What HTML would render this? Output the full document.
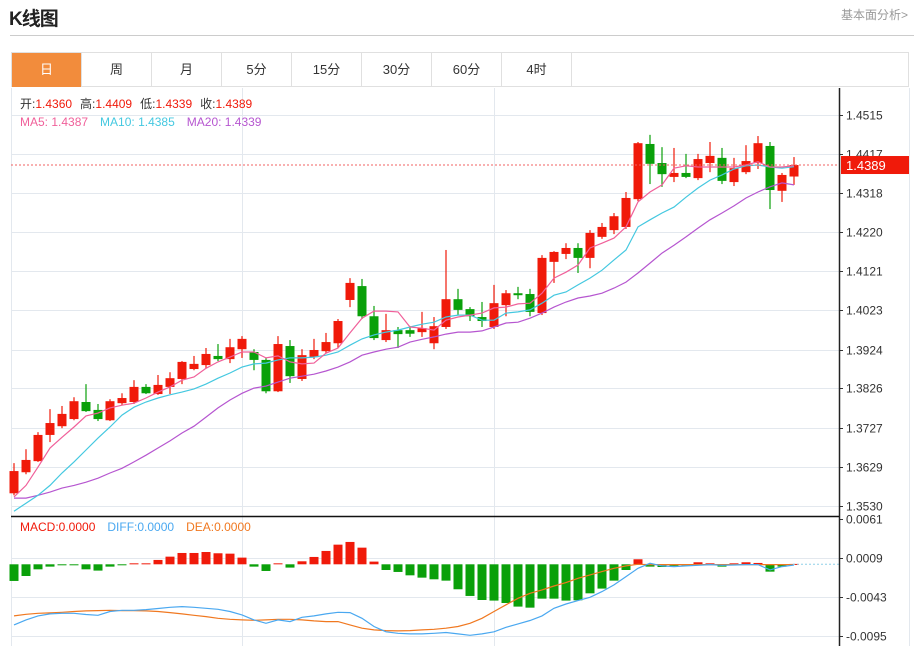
<!DOCTYPE html>
<html><head><meta charset="utf-8">
<style>
body{margin:0;width:914px;height:646px;overflow:hidden;background:#fff;font-family:"Liberation Sans","Noto Sans CJK SC",sans-serif;position:relative}
.title{position:absolute;left:9px;top:4px;font-size:19px;font-weight:bold;color:#222;letter-spacing:-1px}
.more{position:absolute;right:6px;top:6px;font-size:12px;color:#999}
.rule{position:absolute;left:10px;right:0;top:35px;border-top:1px solid #ccc}
.tabs{position:absolute;left:11px;top:52px;width:898px;height:35px;border:1px solid #e0e0e0;box-sizing:border-box}
.tab{position:absolute;top:0;height:34px;width:70px;border-right:1px solid #e0e0e0;box-sizing:border-box;text-align:center;line-height:34px;font-size:13px;color:#333}
.tab.on{background:#f28c3c;color:#fff}
svg{position:absolute;left:0;top:0}
</style></head><body>
<div class="title">K线图</div>
<div class="more">基本面分析&gt;</div>
<div class="rule"></div>
<div class="tabs">
<div class="tab on" style="left:0">日</div>
<div class="tab" style="left:70px">周</div>
<div class="tab" style="left:140px">月</div>
<div class="tab" style="left:210px">5分</div>
<div class="tab" style="left:280px">15分</div>
<div class="tab" style="left:350px">30分</div>
<div class="tab" style="left:420px">60分</div>
<div class="tab" style="left:490px">4时</div>
</div>
<svg id="chart" width="914" height="646"></svg>
<script>
const priceTicks=[1.4515,1.4417,1.4318,1.4220,1.4121,1.4023,1.3924,1.3826,1.3727,1.3629,1.3530];
const priceTickLabels=["1.4515","1.4417","1.4318","1.4220","1.4121","1.4023","1.3924","1.3826","1.3727","1.3629","1.3530"];
const macdTicks=[0.0061,0.0009,-0.0043,-0.0095];
const macdTickLabels=["0.0061","0.0009","-0.0043","-0.0095"];
const opens=[1.3562,1.3615,1.3643,1.3709,1.3731,1.3749,1.3792,1.3772,1.3746,1.3789,1.3792,1.3830,1.3812,1.3830,1.3850,1.3875,1.3885,1.3908,1.3900,1.3925,1.3918,1.3898,1.3819,1.3933,1.3850,1.3905,1.3920,1.3940,1.4049,1.4084,1.4008,1.3948,1.3973,1.3973,1.3968,1.3940,1.3981,1.4051,1.4026,1.4006,1.3981,1.4036,1.4066,1.4064,1.4016,1.4145,1.4165,1.4180,1.4155,1.4208,1.4225,1.4233,1.4303,1.4442,1.4394,1.4359,1.4369,1.4356,1.4394,1.4407,1.4346,1.4371,1.4394,1.4437,1.4324,1.4360];
const highs=[1.3638,1.3673,1.3716,1.3774,1.3782,1.3804,1.3837,1.3787,1.3799,1.3814,1.3847,1.3837,1.3860,1.3867,1.3895,1.3908,1.3928,1.3938,1.3951,1.3958,1.3925,1.3903,1.3958,1.3948,1.3925,1.3951,1.3966,1.4001,1.4104,1.4102,1.4034,1.4014,1.3981,1.3983,1.4019,1.4006,1.4175,1.4077,1.4031,1.4044,1.4087,1.4074,1.4082,1.4077,1.4162,1.4172,1.4192,1.4192,1.4225,1.4243,1.4268,1.4321,1.4447,1.4465,1.4434,1.4432,1.4417,1.4417,1.4447,1.4432,1.4407,1.4439,1.4462,1.4447,1.4369,1.4409];
const lows=[1.3557,1.3610,1.3641,1.3691,1.3726,1.3746,1.3767,1.3744,1.3744,1.3784,1.3787,1.3812,1.3810,1.3812,1.3837,1.3872,1.3877,1.3895,1.3890,1.3903,1.3872,1.3814,1.3817,1.3840,1.3845,1.3900,1.3915,1.3928,1.4031,1.4001,1.3948,1.3943,1.3928,1.3956,1.3956,1.3925,1.3976,1.4011,1.3996,1.3981,1.3976,1.4008,1.4051,1.4008,1.4011,1.4092,1.4152,1.4117,1.4129,1.4203,1.4215,1.4228,1.4298,1.4341,1.4334,1.4346,1.4356,1.4351,1.4371,1.4341,1.4336,1.4366,1.4379,1.4278,1.4296,1.4339];
const closes=[1.3618,1.3646,1.3709,1.3739,1.3762,1.3794,1.3769,1.3749,1.3794,1.3802,1.3830,1.3814,1.3835,1.3852,1.3893,1.3888,1.3913,1.3900,1.3930,1.3951,1.3898,1.3819,1.3938,1.3857,1.3910,1.3923,1.3943,1.3996,1.4092,1.4008,1.3953,1.3973,1.3963,1.3964,1.3978,1.3983,1.4051,1.4024,1.4008,1.3996,1.4041,1.4066,1.4061,1.4019,1.4155,1.4170,1.4180,1.4155,1.4218,1.4233,1.4260,1.4306,1.4444,1.4392,1.4366,1.4369,1.4359,1.4404,1.4412,1.4349,1.4381,1.4399,1.4444,1.4326,1.4364,1.4389];
const ma5=[1.3553,1.3582,1.3628,1.3676,1.3703,1.3729,1.3757,1.3764,1.3777,1.3784,1.3789,1.3802,1.3817,1.3830,1.3847,1.3855,1.3877,1.3893,1.3905,1.3918,1.3918,1.3903,1.3908,1.3893,1.3888,1.3890,1.3915,1.3928,1.3966,1.4003,1.4021,1.4021,1.4019,1.3981,1.3978,1.3973,1.3998,1.4006,1.4011,1.4016,1.4029,1.4031,1.4039,1.4041,1.4066,1.4104,1.4119,1.4137,1.4180,1.4192,1.4205,1.4233,1.4296,1.4321,1.4339,1.4381,1.4387,1.4384,1.4384,1.4384,1.4384,1.4389,1.4397,1.4384,1.4384,1.4387];
const ma10=[1.3517,1.3537,1.3557,1.3582,1.3613,1.3641,1.3671,1.3701,1.3729,1.3759,1.3779,1.3792,1.3802,1.3810,1.3817,1.3825,1.3837,1.3852,1.3865,1.3880,1.3888,1.3890,1.3898,1.3903,1.3903,1.3905,1.3910,1.3918,1.3935,1.3951,1.3961,1.3968,1.3973,1.3981,1.3988,1.3993,1.4006,1.4011,1.4011,1.3998,1.3998,1.4016,1.4019,1.4024,1.4041,1.4061,1.4069,1.4087,1.4104,1.4124,1.4150,1.4175,1.4233,1.4251,1.4268,1.4283,1.4308,1.4331,1.4351,1.4364,1.4379,1.4387,1.4389,1.4384,1.4381,1.4385];
const ma20=[1.3550,1.3550,1.3557,1.3565,1.3575,1.3582,1.3590,1.3600,1.3613,1.3625,1.3641,1.3658,1.3676,1.3694,1.3714,1.3731,1.3754,1.3777,1.3797,1.3814,1.3827,1.3832,1.3842,1.3852,1.3857,1.3862,1.3870,1.3880,1.3893,1.3910,1.3918,1.3925,1.3930,1.3943,1.3950,1.3956,1.3963,1.3968,1.3968,1.3971,1.3981,1.3991,1.3993,1.4003,1.4016,1.4031,1.4044,1.4054,1.4059,1.4066,1.4079,1.4094,1.4117,1.4142,1.4167,1.4187,1.4208,1.4230,1.4251,1.4268,1.4286,1.4306,1.4321,1.4334,1.4344,1.4339];
const macdHist=[-0.00222,-0.00156,-0.00067,-0.00031,-0.00013,-0.00013,-0.00067,-0.00084,-0.00031,-0.00013,0.00013,0.00013,0.00058,0.00102,0.00151,0.00151,0.00164,0.00147,0.00142,0.00089,-0.00031,-0.00089,0.00013,-0.00044,0.0004,0.00098,0.00178,0.00262,0.00298,0.00222,0.00036,-0.00076,-0.00102,-0.00147,-0.00178,-0.002,-0.00218,-0.00333,-0.00422,-0.00476,-0.00484,-0.00516,-0.00564,-0.00578,-0.00458,-0.00458,-0.00484,-0.0048,-0.00387,-0.00324,-0.00218,-0.00076,0.00067,-0.00031,-0.00036,-0.00022,-0.00013,0.00027,0.00013,-0.00031,0.00013,0.00027,0.00018,-0.00098,-0.00031,0.00005];
const diff=[-0.00808,-0.00741,-0.00688,-0.00662,-0.00653,-0.00653,-0.0067,-0.0068,-0.0063,-0.00613,-0.00613,-0.00604,-0.0059,-0.00573,-0.00564,-0.00573,-0.00586,-0.006,-0.0063,-0.00675,-0.00741,-0.00786,-0.00741,-0.00764,-0.00706,-0.00688,-0.00662,-0.0064,-0.00644,-0.0072,-0.0083,-0.009,-0.0092,-0.00928,-0.00928,-0.0092,-0.0091,-0.00928,-0.00946,-0.00928,-0.009,-0.0084,-0.00795,-0.0075,-0.00688,-0.00586,-0.0053,-0.00484,-0.0044,-0.00364,-0.00275,-0.00164,-0.00053,0.00013,-0.00022,-0.00031,-0.00022,-0.00013,-0.00004,-0.00013,-0.00009,-0.00004,-0.00004,-0.00075,-0.00031,-0.0001];
const dea=[-0.00688,-0.00666,-0.00653,-0.00648,-0.0064,-0.0063,-0.00622,-0.00617,-0.00613,-0.00617,-0.00617,-0.00622,-0.0063,-0.00644,-0.00662,-0.0068,-0.00697,-0.0072,-0.00733,-0.00741,-0.00746,-0.00741,-0.00733,-0.00733,-0.00741,-0.00755,-0.00764,-0.00764,-0.00808,-0.00852,-0.00875,-0.00884,-0.00888,-0.00884,-0.00875,-0.00866,-0.00852,-0.0083,-0.00786,-0.0072,-0.0063,-0.0054,-0.00453,-0.00386,-0.00342,-0.00289,-0.00244,-0.00186,-0.00142,-0.00098,-0.00053,-0.00022,0,-0.00004,-0.00004,-0.00004,-0.00004,-0.00004,-0.00004,-0.00004,-0.00004,-0.00004,-0.00004,-0.00004,-0.00004,-0.00004];
const lastPrice=1.4389;

const NS="http://www.w3.org/2000/svg";
const svg=document.getElementById('chart');
const xOf=i=>14+12*i;
const yP=p=>115+(1.4515-p)*3969.5;
const yM=v=>564.3-v*7500;
function el(tag,attrs,parent){const e=document.createElementNS(NS,tag);for(const k in attrs)e.setAttribute(k,attrs[k]);(parent||svg).appendChild(e);return e;}
function txt(x,y,s,fill,size,anchor){const t=el('text',{x:x,y:y,fill:fill,'font-size':size||12,'font-family':'"Liberation Sans","Noto Sans CJK SC",sans-serif','text-anchor':anchor||'start'});t.textContent=s;return t;}
// frame and grid
const left=el('line',{x1:11.5,y1:88,x2:11.5,y2:646,stroke:'#e3e8ee'});


const rb=el('line',{x1:909.5,y1:88,x2:909.5,y2:646,stroke:'#e3e8ee'});


[242.5,494.5].forEach(x=>{const g=el('line',{x1:x,y1:88,x2:x,y2:646,stroke:'#e3e8ee'});

});
priceTicks.forEach((p,i)=>{const y=Math.round(yP(p))+0.5;
const g=el('line',{x1:11,y1:y,x2:839,y2:y,stroke:'#e3e8ee'});


el('line',{x1:839,y1:y,x2:843,y2:y,stroke:'#333'});
const t=txt(846,y+4,priceTickLabels[i],'#333',12);

});
macdTicks.forEach((v,i)=>{const y=Math.round(yM(v))+0.5;
if(i>0){const g=el('line',{x1:11,y1:y,x2:839,y2:y,stroke:'#e3e8ee'});

}
el('line',{x1:839,y1:y,x2:843,y2:y,stroke:'#333'});
const t=txt(846,y+4,macdTickLabels[i],'#333',12);

});
// MA lines
function line(arr,yf,color,name){const d=arr.map((v,i)=>(i?'L':'M')+xOf(i)+','+yf(v).toFixed(1)).join('');
const p=el('path',{d:d,fill:'none',stroke:color,'stroke-width':1.2});

}
// candles
opens.forEach((o,i)=>{const c=closes[i];const up=c>=o;const col=up?'#f01a0a':'#0aa00a';const x=xOf(i);
const g=el('g',{});


el('line',{x1:x,y1:yP(highs[i]),x2:x,y2:yP(lows[i]),stroke:col,'stroke-width':1.2},g);
const top=yP(Math.max(o,c)),bot=yP(Math.min(o,c));
el('rect',{x:x-4.5,y:top,width:9,height:Math.max(1.5,bot-top),fill:col},g);});
line(ma20,yP,'#b656d0','ma20-line');
line(ma10,yP,'#44c8e0','ma10-line');
line(ma5,yP,'#f0609a','ma5-line');
const ly=yP(lastPrice);
const dl=el('line',{x1:11,y1:ly,x2:839,y2:ly,stroke:'#f06060','stroke-dasharray':'2,2'});


const lb=el('rect',{x:841,y:ly-9,width:68,height:18,fill:'#f01a0a'});


txt(846,ly+5,'1.4389','#fff',13);
// MACD
const zy=yM(0);
macdHist.forEach((v,i)=>{const x=xOf(i);const y=yM(v);
const r=el('rect',{x:x-4.5,y:Math.min(y,zy),width:9,height:Math.max(1,Math.abs(y-zy)),fill:v>=0?'#f01a0a':'#0aa00a'});

});
line(dea,yM,'#f07820','dea-line');
line(diff,yM,'#4aa8f0','diff-line');
el('line',{x1:793,y1:zy,x2:839,y2:zy,stroke:'#8fd0e8','stroke-dasharray':'2,2'});
// axes
el('line',{x1:839.5,y1:88,x2:839.5,y2:646,stroke:'#222','stroke-width':1.5});
el('line',{x1:11,y1:516.5,x2:839,y2:516.5,stroke:'#111','stroke-width':1.5});
// legends
const l1=el('text',{x:20,y:108,'font-size':12,'font-family':'"Liberation Sans","Noto Sans CJK SC",sans-serif'});


l1.innerHTML='<tspan fill="#333">开:</tspan><tspan fill="#f01a0a">1.4360</tspan><tspan fill="#333" dx="8">高:</tspan><tspan fill="#f01a0a">1.4409</tspan><tspan fill="#333" dx="8">低:</tspan><tspan fill="#f01a0a">1.4339</tspan><tspan fill="#333" dx="8">收:</tspan><tspan fill="#f01a0a">1.4389</tspan>';
const l2=el('text',{x:20,y:126,'font-size':12,'font-family':'"Liberation Sans",sans-serif'});


l2.innerHTML='<tspan fill="#f0609a">MA5: 1.4387</tspan><tspan fill="#44c8e0" dx="12">MA10: 1.4385</tspan><tspan fill="#b656d0" dx="12">MA20: 1.4339</tspan>';
const l3=el('text',{x:20,y:531,'font-size':12,'font-family':'"Liberation Sans",sans-serif'});


l3.innerHTML='<tspan fill="#f01a0a">MACD:0.0000</tspan><tspan fill="#4aa8f0" dx="12">DIFF:0.0000</tspan><tspan fill="#f07820" dx="12">DEA:0.0000</tspan>';
</script>
</body></html>
